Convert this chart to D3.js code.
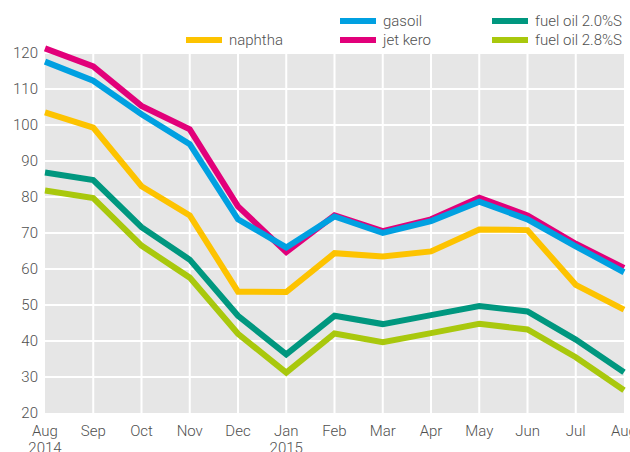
<!DOCTYPE html>
<html>
<head>
<meta charset="utf-8">
<script src="https://cdn.jsdelivr.net/npm/d3@7"></script>
<style>
  body { margin: 0; background: #fff; }
  svg text { font-family: "Roboto", sans-serif; font-weight: 300; fill: #505050; }
</style>
</head>
<body>
<svg id="chart" width="630" height="452"></svg>
<script>
const months = ['Aug', 'Sep', 'Oct', 'Nov', 'Dec', 'Jan', 'Feb', 'Mar', 'Apr', 'May', 'Jun', 'Jul', 'Aug']
const years = ['2014', '', '', '', '', '2015', '', '', '', '', '', '', '']
const yTicks = [20, 30, 40, 50, 60, 70, 80, 90, 100, 110, 120]

const naphtha = [103.5, 99.3, 83, 74.9, 53.7, 53.6, 64.4, 63.5, 64.9, 71, 70.8, 55.6, 48.7]
const gasoil = [117.6, 112.3, 103, 94.7, 73.8, 66, 74.6, 70, 73.3, 78.7, 73.8, 66.3, 59.1]
const jetKero = [121.3, 116.3, 105.3, 98.8, 77.4, 64.7, 74.9, 70.5, 73.8, 79.8, 74.9, 67, 60.3]
const fuel20 = [86.8, 84.7, 71.6, 62.6, 47, 36.3, 47, 44.7, 47.2, 49.7, 48.2, 40.4, 31.3]
const fuel28 = [81.8, 79.7, 66.5, 57.6, 42, 31.2, 42.1, 39.7, 42.2, 44.8, 43.2, 35.5, 26.3]

// draw order: last on top
const series = [
  {name: 'fuel oil 2.8%S', values: fuel28, color: '#a9c80d'},
  {name: 'fuel oil 2.0%S', values: fuel20, color: '#00977f'},
  {name: 'naphtha', values: naphtha, color: '#fdc300'},
  {name: 'jet kero', values: jetKero, color: '#e2007a'},
  {name: 'gasoil', values: gasoil, color: '#00a0e1'}
]

const legendItems = [
  {name: 'gasoil', x: 340, y: 21},
  {name: 'fuel oil 2.0%S', x: 492, y: 21},
  {name: 'naphtha', x: 186, y: 40},
  {name: 'jet kero', x: 340, y: 40},
  {name: 'fuel oil 2.8%S', x: 492, y: 40}
]

const margin = {top: 53, right: 6, bottom: 39, left: 45},
  width = 630,
  height = 452

const svg = d3.select('#chart')

const x = d3.scalePoint()
  .domain(d3.range(months.length))
  .range([margin.left, width - margin.right])

const y = d3.scaleLinear()
  .domain([20, 120])
  .range([height - margin.bottom, margin.top])

// plot background
svg.append('rect')
  .attr('x', margin.left)
  .attr('y', y(120))
  .attr('width', x(months.length - 1) - margin.left)
  .attr('height', y(20) - y(120))
  .attr('fill', '#e6e6e6')

// grid
const grid = svg.append('g').attr('stroke', '#fff').attr('stroke-width', 2)
grid.selectAll('line.h')
  .data(yTicks.slice(1))
  .join('line')
  .attr('class', 'h')
  .attr('x1', margin.left)
  .attr('x2', x(months.length - 1))
  .attr('y1', d => y(d))
  .attr('y2', d => y(d))
grid.selectAll('line.v')
  .data(d3.range(1, months.length - 1))
  .join('line')
  .attr('class', 'v')
  .attr('x1', d => x(d))
  .attr('x2', d => x(d))
  .attr('y1', y(120))
  .attr('y2', y(20))

// y axis labels
svg.append('g')
  .selectAll('text')
  .data(yTicks)
  .join('text')
  .attr('x', 38)
  .attr('y', d => y(d))
  .attr('dy', '0.35em')
  .attr('text-anchor', 'end')
  .attr('font-size', 15)
  .text(d => d)

// x axis labels
const xl = svg.append('g')
  .selectAll('text')
  .data(months)
  .join('text')
  .attr('x', (d, i) => x(i))
  .attr('y', 436)
  .attr('text-anchor', 'middle')
  .attr('font-size', 15)
xl.append('tspan').text(d => d)
xl.append('tspan')
  .attr('x', (d, i) => x(i))
  .attr('dy', 17)
  .text((d, i) => years[i])

// lines
const line = d3.line()
  .x((d, i) => x(i))
  .y(d => y(d))

svg.append('g')
  .selectAll('path')
  .data(series)
  .join('path')
  .attr('d', d => line(d.values))
  .attr('fill', 'none')
  .attr('stroke', d => d.color)
  .attr('stroke-width', 6)
  .attr('stroke-linejoin', 'miter')

// legend
const colorOf = name => series.find(s => s.name === name).color
const lg = svg.append('g')
  .selectAll('g')
  .data(legendItems)
  .join('g')
  .attr('transform', d => `translate(${d.x},${d.y})`)
lg.append('line')
  .attr('x1', 0)
  .attr('x2', 36)
  .attr('stroke', d => colorOf(d.name))
  .attr('stroke-width', 6)
lg.append('text')
  .attr('x', 43)
  .attr('dy', '0.3em')
  .attr('font-size', 15)
  .text(d => d.name)
</script>
</body>
</html>
